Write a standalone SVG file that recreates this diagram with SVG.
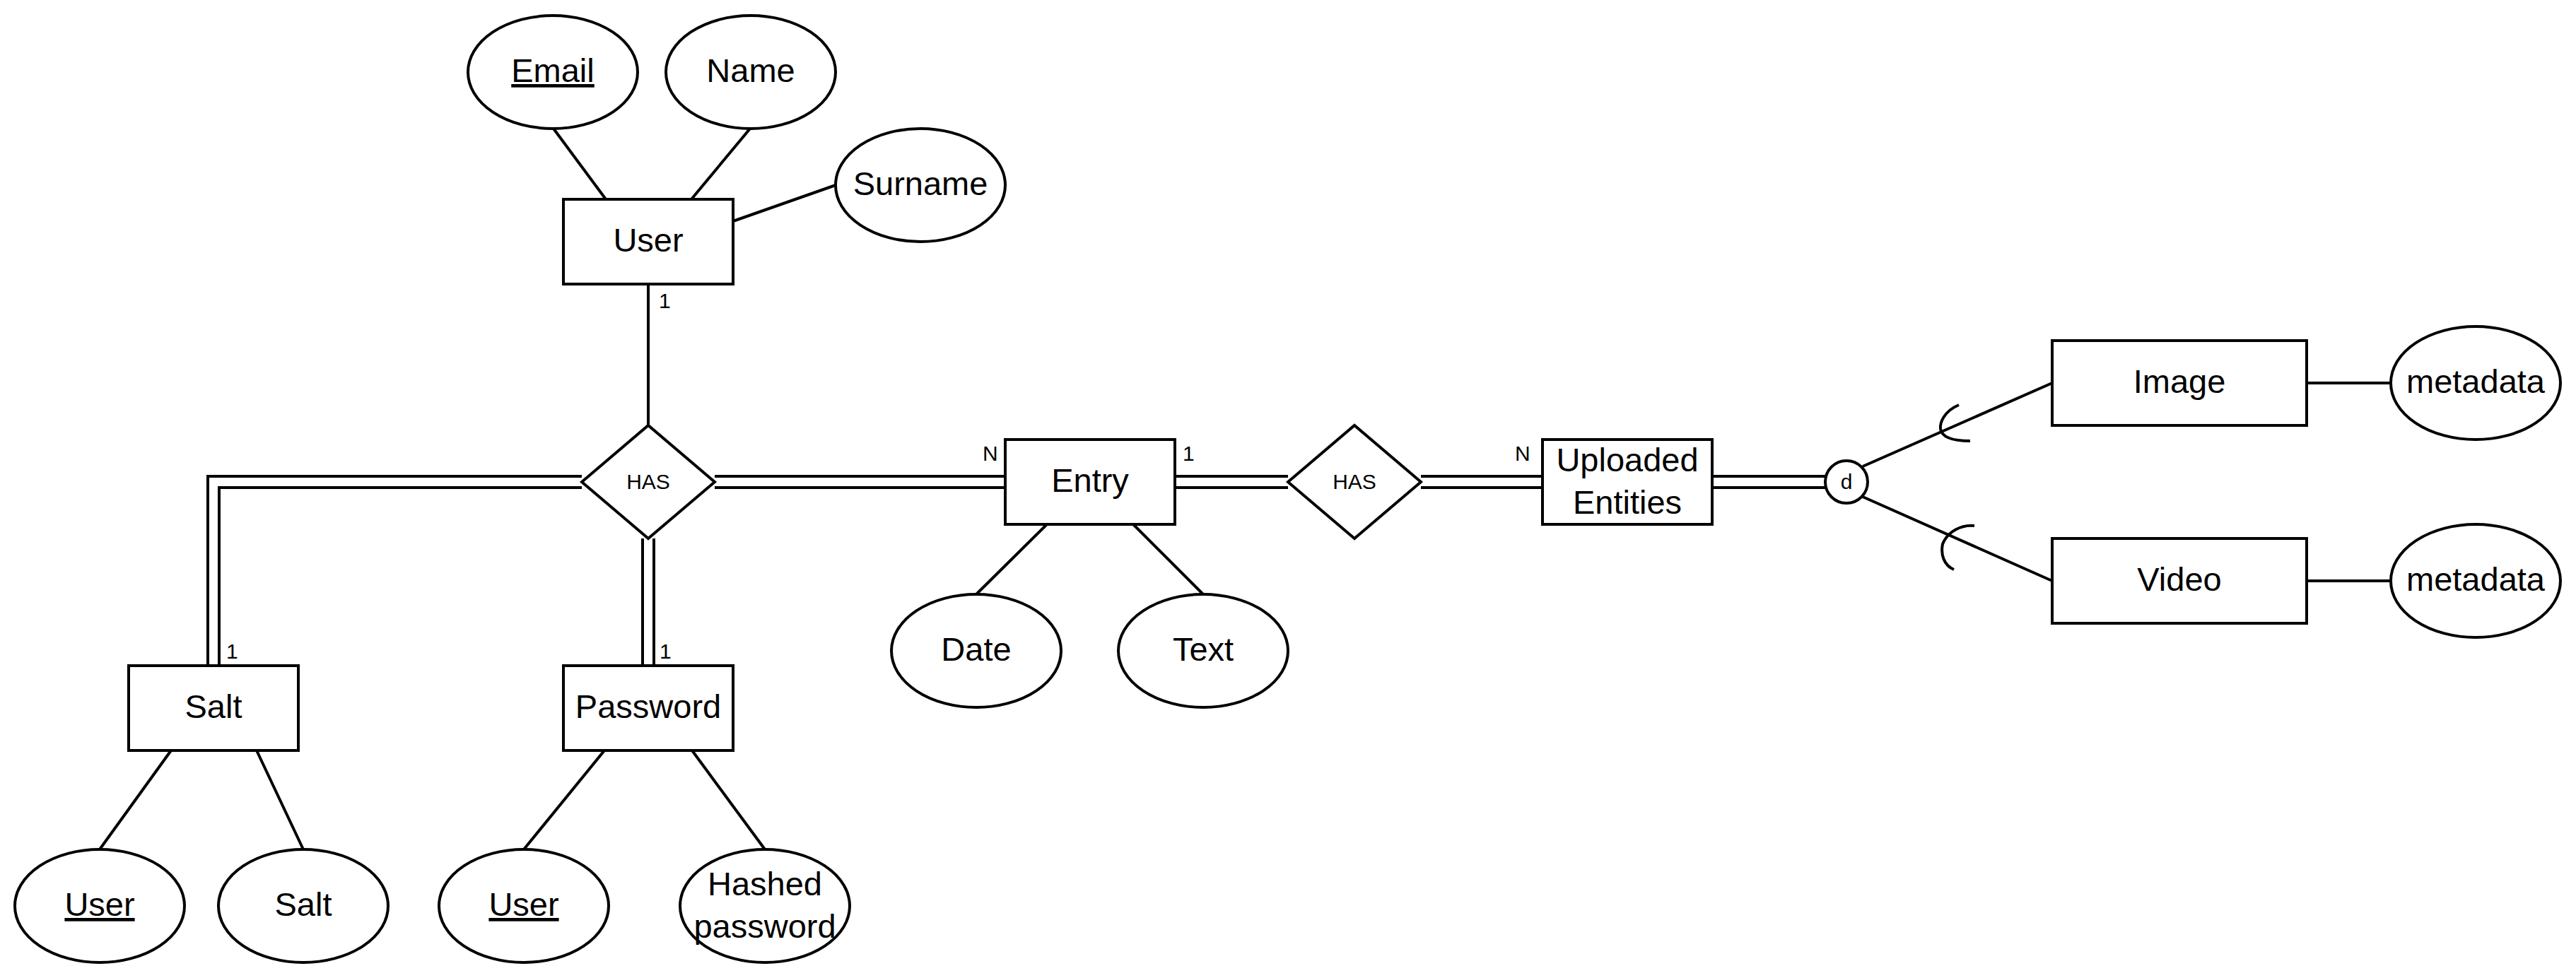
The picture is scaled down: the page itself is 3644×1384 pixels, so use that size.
<svg xmlns="http://www.w3.org/2000/svg" width="3644" height="1384" viewBox="0 0 3644 1384">
<style>
.s{fill:#fff;stroke:#000;stroke-width:4}
.c{fill:none;stroke:#000;stroke-width:4}
.t{font-family:"Liberation Sans",Arial,sans-serif;font-size:47px;text-anchor:middle;fill:#000}
.sm{font-family:"Liberation Sans",Arial,sans-serif;font-size:30px;fill:#000}
.u{text-decoration:underline}
</style>
<rect width="3644" height="1384" fill="#fff"/>
<g id="connectors">
<path class="c" d="M783,182L857,282M1061,182L978,282M1182,262L1037,313"/>
<path class="c" d="M917,402V602"/>
<path class="c" d="M823,674H294V942M823,690H310V942"/>
<path class="c" d="M909,762V942M925,762V942"/>
<path class="c" d="M1011,674H1422M1011,690H1422"/>
<path class="c" d="M1662,674H1822M1662,690H1822"/>
<path class="c" d="M2010,674H2182M2010,690H2182"/>
<path class="c" d="M2422,674H2583M2422,690H2583"/>
<path class="c" d="M2635,660L2903,542M2635,703L2903,822"/>
<path class="c" d="M2771,573C2750,582 2744,598 2745,607C2747,620 2765,624 2787,624"/>
<path class="c" d="M2793,744C2775,742 2755,752 2748,770C2745,785 2750,800 2764,806"/>
<path class="c" d="M3263,542H3382M3263,822H3382"/>
<path class="c" d="M1481,742L1381,841M1603,742L1702,841"/>
<path class="c" d="M242,1062L141,1202M363,1062L429,1202M855,1062L741,1202M979,1062L1082,1202"/>
<text class="sm" x="932" y="436">1</text>
<text class="sm" x="320" y="932">1</text>
<text class="sm" x="933" y="932">1</text>
<text class="sm" x="1390" y="652">N</text>
<text class="sm" x="1673" y="652">1</text>
<text class="sm" x="2143" y="652">N</text>
</g>
<g id="user"><rect class="s" x="797" y="282" width="240" height="120"/><text class="t" x="917" y="356">User</text></g>
<g id="email"><ellipse class="s" cx="782" cy="102" rx="120" ry="80"/><text class="t u" x="782" y="116">Email</text></g>
<g id="name"><ellipse class="s" cx="1062" cy="102" rx="120" ry="80"/><text class="t" x="1062" y="116">Name</text></g>
<g id="surname"><ellipse class="s" cx="1302" cy="262" rx="120" ry="80"/><text class="t" x="1302" y="276">Surname</text></g>
<g id="has1"><polygon class="s" points="823,682 917,602 1011,682 917,762"/><text class="sm" x="917" y="692" text-anchor="middle">HAS</text></g>
<g id="entry"><rect class="s" x="1422" y="622" width="240" height="120"/><text class="t" x="1542" y="696">Entry</text></g>
<g id="has2"><polygon class="s" points="1822,682 1916,602 2010,682 1916,762"/><text class="sm" x="1916" y="692" text-anchor="middle">HAS</text></g>
<g id="uploaded"><rect class="s" x="2182" y="622" width="240" height="120"/><text class="t" x="2302" y="667">Uploaded</text><text class="t" x="2302" y="727">Entities</text></g>
<g id="disjoint"><circle class="s" cx="2612" cy="682" r="30"/><text class="sm" x="2612" y="692" text-anchor="middle">d</text></g>
<g id="image"><rect class="s" x="2903" y="482" width="360" height="120"/><text class="t" x="3083" y="556">Image</text></g>
<g id="video"><rect class="s" x="2903" y="762" width="360" height="120"/><text class="t" x="3083" y="836">Video</text></g>
<g id="metadata1"><ellipse class="s" cx="3502" cy="542" rx="120" ry="80"/><text class="t" x="3502" y="556">metadata</text></g>
<g id="metadata2"><ellipse class="s" cx="3502" cy="822" rx="120" ry="80"/><text class="t" x="3502" y="836">metadata</text></g>
<g id="date"><ellipse class="s" cx="1381" cy="921" rx="120" ry="80"/><text class="t" x="1381" y="935">Date</text></g>
<g id="text"><ellipse class="s" cx="1702" cy="921" rx="120" ry="80"/><text class="t" x="1702" y="935">Text</text></g>
<g id="salt"><rect class="s" x="182" y="942" width="240" height="120"/><text class="t" x="302" y="1016">Salt</text></g>
<g id="password"><rect class="s" x="797" y="942" width="240" height="120"/><text class="t" x="917" y="1016">Password</text></g>
<g id="salt-user"><ellipse class="s" cx="141" cy="1282" rx="120" ry="80"/><text class="t u" x="141" y="1296">User</text></g>
<g id="salt-salt"><ellipse class="s" cx="429" cy="1282" rx="120" ry="80"/><text class="t" x="429" y="1296">Salt</text></g>
<g id="password-user"><ellipse class="s" cx="741" cy="1282" rx="120" ry="80"/><text class="t u" x="741" y="1296">User</text></g>
<g id="hashed"><ellipse class="s" cx="1082" cy="1282" rx="120" ry="80"/><text class="t" x="1082" y="1267">Hashed</text><text class="t" x="1082" y="1327">password</text></g>
</svg>
